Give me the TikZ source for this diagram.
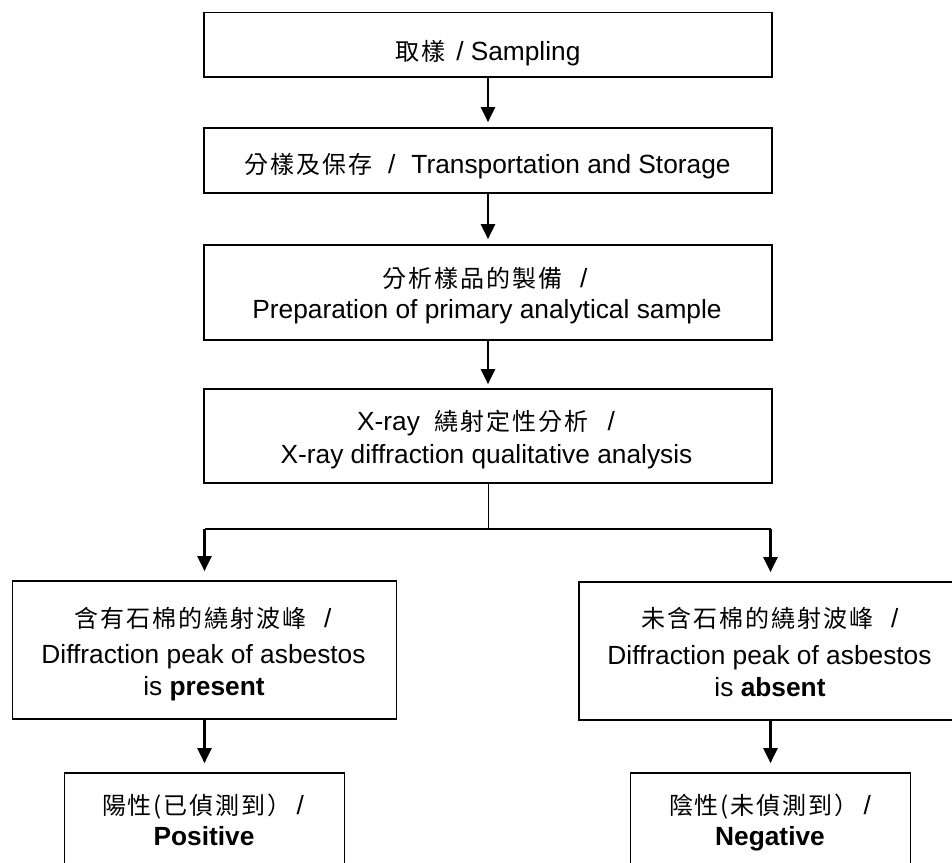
\documentclass[tikz,border=0pt]{standalone}
\usepackage{fontspec}
\setmainfont{Liberation Sans}
\newfontfamily\cjk[LetterSpace=8]{Noto Sans CJK TC}
\usetikzlibrary{arrows.meta}
\newcommand\zh[1]{{\cjk\fontsize{24bp}{24bp}\selectfont #1}}
\begin{document}
\begin{tikzpicture}[x=1bp,y=-1bp,
  box/.style={draw, line width=1.7bp, inner sep=0pt, rectangle},
  txt/.style={anchor=base, inner sep=0pt, font=\fontsize{26.3bp}{30bp}\selectfont},
  arr/.style={line width=2.2bp, -{Triangle[width=14bp,length=15bp]}},
  link/.style={line width=1.2bp}]
\fill[white] (0,0) rectangle (952,863);
\useasboundingbox (0,0) rectangle (952,863);
\clip (0,0) rectangle (952,863);
% boxes
\node[box, minimum width=568bp, minimum height=64.5bp] (b1) at (488,44.75) {};
\node[box, minimum width=568bp, minimum height=65bp] (b2) at (488,160.5) {};
\node[box, minimum width=568bp, minimum height=95bp] (b3) at (488,292.5) {};
\node[box, minimum width=568bp, minimum height=94bp] (b4) at (488,436) {};
\node[box, minimum width=384bp, minimum height=138bp] (bl) at (204.5,650) {};
\node[box, minimum width=383bp, minimum height=138bp] (br) at (770.5,651) {};
\node[box, minimum width=280bp, minimum height=96bp] (bl2) at (204.5,821) {};
\node[box, minimum width=280bp, minimum height=96bp] (br2) at (770.5,821) {};
% texts
\node[txt] (t1) at (488,60) {\zh{取樣}\hspace{11bp}/\hspace{7bp}Sampling};
\node[txt] (t2) at (487.5,173) {\zh{分樣及保存}\hspace{16bp}/\hspace{16bp}Transportation and Storage};
\node[txt] (t3a) at (485,287) {\zh{分析樣品的製備}\hspace{18bp}/};
\node[txt] (t3b) at (487,318) {Preparation of primary analytical sample};
\node[txt] (t4a) at (486,430) {X-ray\hspace{15bp}\zh{繞射定性分析}\hspace{19bp}/};
\node[txt] (t4b) at (486.5,463) {X-ray diffraction qualitative analysis};
\node[txt] (tla) at (203,627) {\zh{含有石棉的繞射波峰}\hspace{18bp}/};
\node[txt] (tlb) at (203.5,663) {Diffraction peak of asbestos};
\node[txt] (tlc) at (204,695) {is \textbf{present}};
\node[txt] (tra) at (770,627.5) {\zh{未含石棉的繞射波峰}\hspace{18bp}/};
\node[txt] (trb) at (769.5,664) {Diffraction peak of asbestos};
\node[txt] (trc) at (770,696) {is \textbf{absent}};
\node[txt] (tbla) at (203,814) {\zh{陽性(已偵測到）}\hspace{5bp}/};
\node[txt] (tblb) at (204,845) {\textbf{Positive}};
\node[txt] (tbra) at (770,814.5) {\zh{陰性(未偵測到）}\hspace{5bp}/};
\node[txt] (tbrb) at (770,845) {\textbf{Negative}};
% connectors
\coordinate (jl) at (204.5,529);
\coordinate (jr) at (770.5,529);
\draw[arr, shorten >=5bp] (b1.south) -- (b2.north);
\draw[arr, shorten >=5bp] (b2.south) -- (b3.north);
\draw[arr, shorten >=4bp] (b3.south) -- (b4.north);
\draw[line width=1bp] (b4.south) -- (b4.south |- jl);
\draw[link] (jl) -- (jr);
\draw[arr, shorten >=9bp] (jl) -- (bl.north);
\draw[arr, shorten >=9bp] (jr) -- (br.north);
\draw[arr, shorten >=9bp] (bl.south) -- (bl2.north);
\draw[arr, shorten >=9bp] (br.south) -- (br2.north);
\end{tikzpicture}
\end{document}
